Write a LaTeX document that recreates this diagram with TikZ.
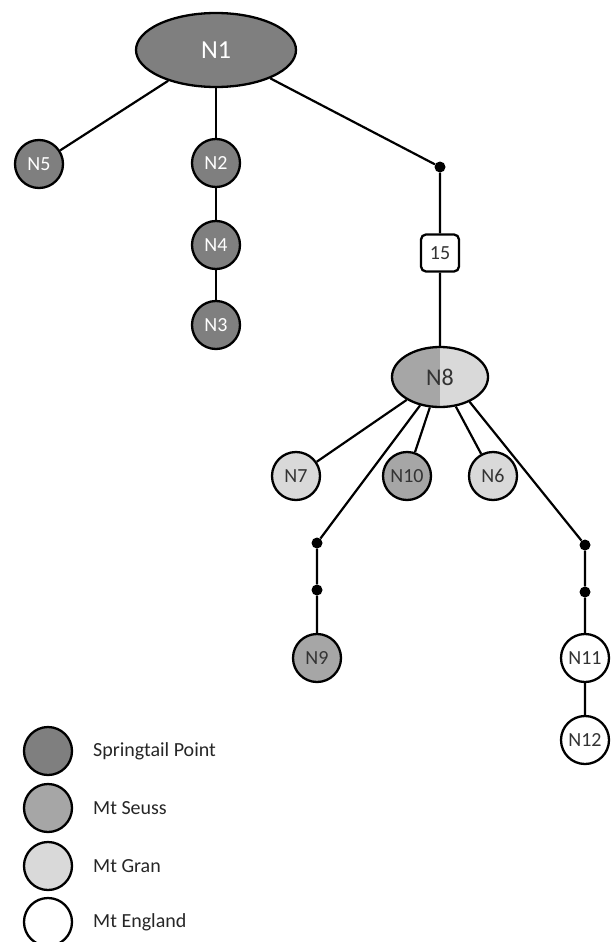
\documentclass[tikz,border=0pt]{standalone}
\usepackage{fontspec}
\setmainfont{Carlito}
\usetikzlibrary{shapes.geometric}
\definecolor{springtail}{HTML}{7F7F7F}
\definecolor{seuss}{HTML}{A6A6A6}
\definecolor{gran}{HTML}{D9D9D9}

\begin{document}
\begin{tikzpicture}[x=1pt,y=1pt,yscale=-1,
    site/.style={circle,draw,line width=2.3pt,minimum size=48pt,inner sep=0pt,
      font=\fontsize{20}{23}\selectfont},
    springsite/.style={site,fill=springtail,text=white},
    seusssite/.style={site,fill=seuss,text=black!80},
    gransite/.style={site,fill=gran,text=black!80},
    englandsite/.style={site,fill=white,text=black!80},
    joint/.style={circle,fill=black,inner sep=0pt,minimum size=11pt},
    link/.style={line width=2.2pt},
    legendtext/.style={anchor=west,inner sep=0pt,text=black!85,font=\fontsize{20}{23}\selectfont}]
  \useasboundingbox (0,0) rectangle (613,942);

  % upper tree
  \node [ellipse,draw,line width=2.3pt,fill=springtail,text=white,minimum width=160pt,minimum height=74pt,
    inner sep=0pt,font=\fontsize{26}{30}\selectfont] (N1) at (216,50) {N1};
  \node [springsite] (N5) at (39,164) {N5};
  \node [springsite] (N2) at (216,163) {N2};
  \node [springsite] (N4) at (216,245) {N4};
  \node [springsite] (N3) at (216,325) {N3};
  \node [joint] (J1) at (440,167) {};
  \node [draw,rounded corners=5pt,line width=2.3pt,fill=white,minimum width=38pt,minimum height=37pt,
    inner sep=0pt,text=black!80,font=\fontsize{20}{23}\selectfont] (L15) at (440,253) {15};

  % lower tree
  \node [ellipse,draw,line width=2.3pt,minimum width=96pt,minimum height=60pt,inner sep=0pt,
    text=black!80,font=\fontsize{24}{28}\selectfont,
    path picture={\fill [gran] (path picture bounding box.north west) rectangle (path picture bounding box.south east);
      \fill [seuss] (path picture bounding box.north west) rectangle (path picture bounding box.south);}] (N8) at (440,377) {N8};
  \node [gransite] (N7) at (296,476) {N7};
  \node [seusssite] (N10) at (407,476) {N10};
  \node [gransite] (N6) at (493,476) {N6};
  \node [joint] (J2) at (317,543) {};
  \node [joint] (J3) at (317,590) {};
  \node [seusssite] (N9) at (317,658) {N9};
  \node [joint] (J4) at (585,545) {};
  \node [joint] (J5) at (585,592) {};
  \node [englandsite] (N11) at (585,658) {N11};
  \node [englandsite] (N12) at (585,740) {N12};

  \draw [link] (N1) -- (N5);
  \draw [link] (N1) -- (N2) -- (N4) -- (N3);
  \draw [link] (N1) -- (J1) -- (L15) -- (N8);
  \draw [link] (N8) -- (N7);
  \draw [link] (N8.-125) -- (J2) -- (J3) -- (N9);
  \draw [link] (N8) -- (N10);
  \draw [link] (N8) -- (N6);
  \draw [link] (N8.-40) -- (J4) -- (J5) -- (N11) -- (N12);

  % legend
  \node [springsite] (K1) at (48,751) {};
  \node [seusssite] (K2) at (48,808) {};
  \node [gransite] (K3) at (48,866) {};
  \node [englandsite] (K4) at (48,922) {};
  \node [legendtext] (T1) at (93,751) {Springtail Point};
  \node [legendtext] (T2) at (93,808) {Mt Seuss};
  \node [legendtext] (T3) at (93,866) {Mt Gran};
  \node [legendtext] (T4) at (93,922) {Mt England};
\end{tikzpicture}
\end{document}
